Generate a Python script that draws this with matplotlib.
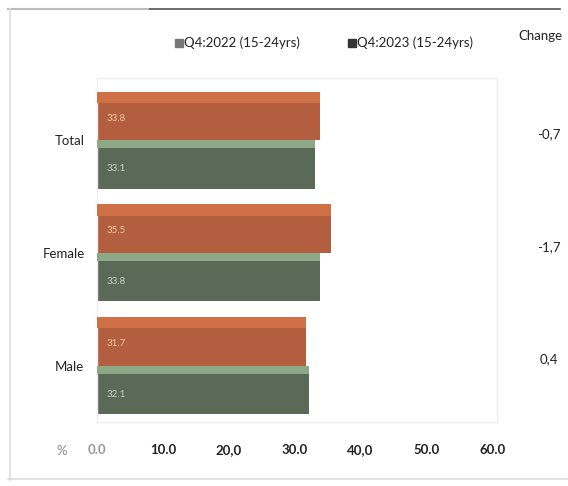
import matplotlib
matplotlib.use("Agg")
import matplotlib.pyplot as plt
from matplotlib.lines import Line2D
from matplotlib.patches import Rectangle

categories = ["Total", "Female", "Male"]
q4_2022 = [33.8, 35.5, 31.7]
q4_2023 = [33.1, 33.8, 32.1]
change_labels = ["-0,7", "-1,7", "0,4"]
series_names = ["Q4:2022 (15-24yrs)", "Q4:2023 (15-24yrs)"]
tick_values = [0, 10, 20, 30, 40, 50, 60]
tick_labels = ["0.0", "10.0", "20,0", "30.0", "40,0", "50.0", "60.0"]

plt.rcParams['font.family'] = ['Lato', 'DejaVu Sans']

W, H = 568, 486
fig = plt.figure(figsize=(W / 100, H / 100), dpi=100)
fig.patch.set_facecolor("white")

ax = fig.add_axes([97 / W, 1 - 422 / H, 400 / W, 344 / H])
ax.set_xlim(0, 60.7)
ax.set_ylim(2.5, -0.55)

orange = "#B35E3E"
orange_top = "#CF7047"
green = "#5B6A56"
green_top = "#8CA886"
bh = 0.43

for i, (a, b) in enumerate(zip(q4_2022, q4_2023)):
    y_o = i - bh / 2
    y_g = i + bh / 2
    ax.barh(y_o, a, height=bh, color=orange, edgecolor="none", zorder=2)
    ax.barh(y_o - bh / 2 + 0.05, a, height=0.10, color=orange_top,
            edgecolor="none", zorder=3)
    ax.barh(y_g, b, height=bh, color=green, edgecolor="none", zorder=2)
    ax.barh(y_g - bh / 2 + 0.035, b, height=0.07, color=green_top,
            edgecolor="none", zorder=3)
    ax.text(1.5, y_o + 0.02, f"{a:.1f}", color="#EBCB9E", fontsize=7,
            va="center", ha="left", zorder=4)
    ax.text(1.5, y_g + 0.04, f"{b:.1f}", color="#C9D2C4", fontsize=7,
            va="center", ha="left", zorder=4)

ax.set_yticks(range(len(categories)))
ax.set_yticklabels(categories, fontsize=9.5, color="#222222")
ax.set_xticks(tick_values)
ax.set_xticklabels(tick_labels, fontsize=9.5, color="#222222",
                   fontweight="bold")
ax.get_xticklabels()[0].set_color("#999999")
ax.tick_params(length=0, pad=9)
ax.tick_params(axis="x", pad=16)
for s in ax.spines.values():
    s.set_color("#EEEEEE")
    s.set_linewidth(1.0)

# change column
fig.text(540 / W, 1 - 36 / H, "Change", fontsize=9.5, ha="center",
         va="center", color="#222222")
for i, c in enumerate(change_labels):
    yc = ax.transData.transform((0, i))[1]
    fig.text(549 / W, (yc + 6) / H, c, fontsize=9.5, ha="center",
             va="center", color="#222222")

# legend
leg_y = 1 - 43 / H
fig.add_artist(Rectangle((175 / W, leg_y - 4 / H), 8 / W, 8 / H,
                         transform=fig.transFigure, color="#777777"))
fig.text(184 / W, leg_y, series_names[0], fontsize=9.5, va="center",
         ha="left", color="#222222")
fig.add_artist(Rectangle((348 / W, leg_y - 4 / H), 8 / W, 8 / H,
                         transform=fig.transFigure, color="#333333"))
fig.text(357 / W, leg_y, series_names[1], fontsize=9.5, va="center",
         ha="left", color="#222222")

fig.text(62 / W, 1 - 451 / H, "%", fontsize=9.5, ha="center", va="center",
         color="#888888")

# outer frame
fig.add_artist(Line2D([8 / W, 150 / W], [1 - 9 / H, 1 - 9 / H],
                      transform=fig.transFigure, color="#BBBBBB", lw=1.5))
fig.add_artist(Line2D([150 / W, 560 / W], [1 - 9 / H, 1 - 9 / H],
                      transform=fig.transFigure, color="#555555", lw=1.2))
fig.add_artist(Line2D([10 / W, 10 / W], [1 - 9 / H, 1 - 480 / H],
                      transform=fig.transFigure, color="#DDDDDD", lw=1.2))
fig.add_artist(Line2D([8 / W, 568 / W], [1 - 479 / H, 1 - 479 / H],
                      transform=fig.transFigure, color="#DDDDDD", lw=1.2))

fig.savefig("out.png", dpi=100)
